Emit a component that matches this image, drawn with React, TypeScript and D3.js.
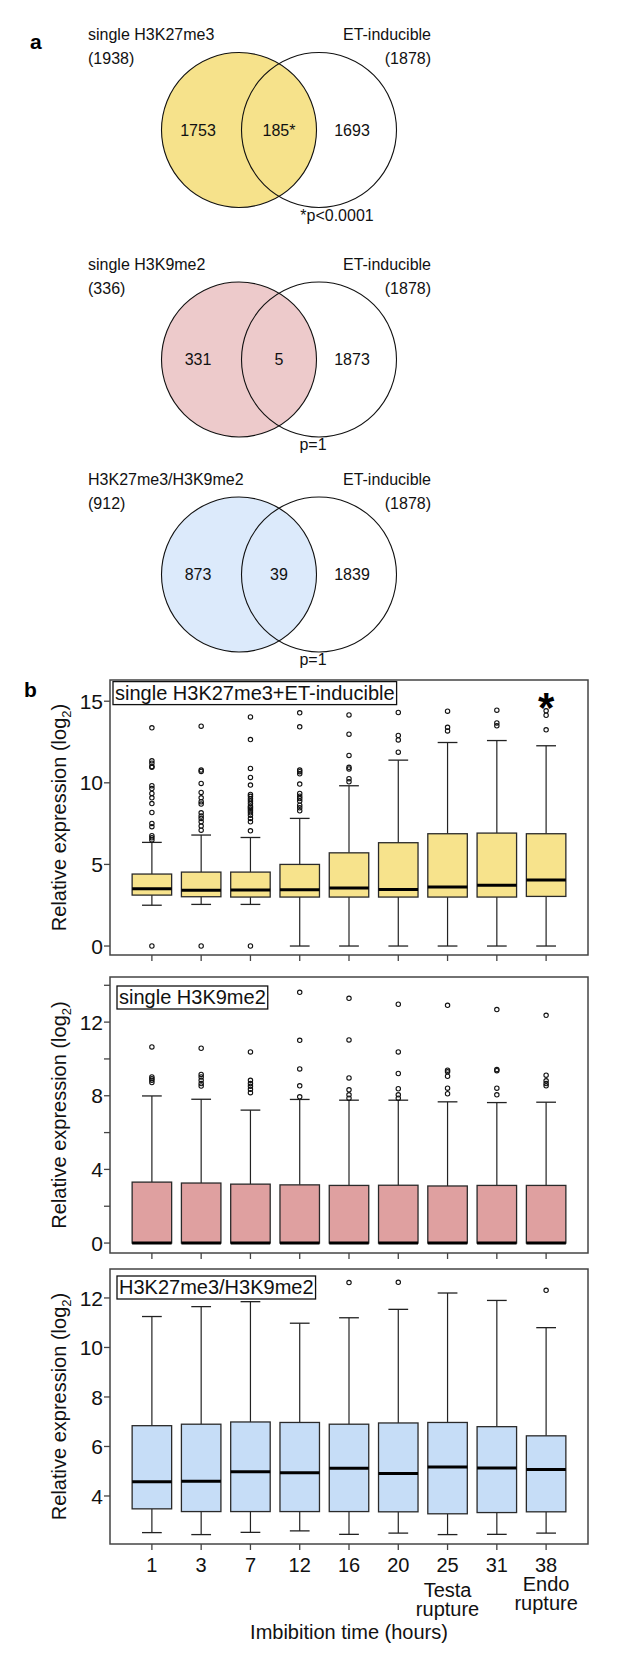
import { useEffect, useRef } from "react";
import * as d3 from "d3";

// ---- data ----
const hours = ["1", "3", "7", "12", "16", "20", "25", "31", "38"];
const hourNotes = [[], [], [], [], [], [], ["Testa", "rupture"], [], ["Endo", "rupture"]];

const vennLeftNames = ["single H3K27me3", "single H3K9me2", "H3K27me3/H3K9me2"];
const vennLeftTotals = ["(1938)", "(336)", "(912)"];
const vennRightName = "ET-inducible";
const vennRightTotals = ["(1878)", "(1878)", "(1878)"];
const vennLeftOnly = ["1753", "331", "873"];
const vennOverlap = ["185*", "5", "39"];
const vennRightOnly = ["1693", "1873", "1839"];
const vennPValues = ["*p<0.0001", "p=1", "p=1"];

// single H3K27me3 + ET-inducible
const k27Low = [2.5, 2.55, 2.55, 0, 0, 0, 0, 0, 0];
const k27Q1 = [3.12, 3.02, 3.0, 3.0, 3.0, 3.0, 3.0, 3.0, 3.04];
const k27Med = [3.51, 3.41, 3.43, 3.45, 3.55, 3.47, 3.61, 3.73, 4.04];
const k27Q3 = [4.41, 4.53, 4.53, 5.0, 5.71, 6.33, 6.88, 6.92, 6.88];
const k27High = [6.35, 6.8, 6.65, 7.82, 9.82, 11.39, 12.47, 12.59, 12.27];
const k27Out = [
  [13.37, 11.35, 11.2, 11.0, 10.95, 9.82, 9.65, 9.35, 9.08, 8.73, 8.18, 7.51, 7.31, 6.76, 6.63, 6.5, 0],
  [13.47, 10.78, 10.7, 9.96, 9.41, 9.08, 8.84, 8.7, 8.16, 7.96, 7.82, 7.61, 7.35, 7.1, 0],
  [14.04, 12.65, 10.88, 10.33, 9.86, 9.29, 9.17, 9.02, 8.88, 8.73, 8.57, 8.49, 8.39, 8.29, 8.16, 8.02, 7.82, 7.61, 7.06, 0],
  [14.29, 13.43, 10.78, 10.68, 10.55, 9.92, 9.35, 9.18, 9.04, 8.88, 8.63, 8.47, 8.29],
  [14.16, 12.98, 11.68, 10.95, 10.85, 10.25, 10.06],
  [14.31, 12.9, 12.63, 11.88],
  [14.39, 13.4, 13.18],
  [14.45, 13.67, 13.49],
  [14.41, 14.14, 13.25],
];

// single H3K9me2
const k9Low = [0, 0, 0, 0, 0, 0, 0, 0, 0];
const k9Q1 = [0, 0, 0, 0, 0, 0, 0, 0, 0];
const k9Med = [0, 0, 0, 0, 0, 0, 0, 0, 0];
const k9Q3 = [3.31, 3.26, 3.2, 3.16, 3.13, 3.14, 3.1, 3.13, 3.13];
const k9High = [7.99, 7.81, 7.22, 7.8, 7.76, 7.76, 7.67, 7.63, 7.65];
const k9Out = [
  [10.65, 9.02, 8.93, 8.84, 8.72],
  [10.58, 9.16, 9.02, 8.84, 8.66, 8.53],
  [10.38, 8.84, 8.66, 8.51, 8.35, 8.17],
  [13.62, 11.01, 9.46, 8.54, 7.94],
  [13.29, 11.03, 8.97, 8.32, 8.05, 7.87],
  [12.97, 10.38, 9.21, 8.38, 8.05, 7.87],
  [12.91, 9.39, 9.3, 9.06, 8.41, 8.11],
  [12.68, 9.42, 9.36, 8.41, 8.05],
  [12.37, 9.12, 8.81, 8.66, 8.54],
];

// H3K27me3/H3K9me2
const bothLow = [2.52, 2.44, 2.53, 2.59, 2.45, 2.5, 2.44, 2.45, 2.5];
const bothQ1 = [3.48, 3.37, 3.37, 3.37, 3.37, 3.36, 3.28, 3.33, 3.36];
const bothMed = [4.57, 4.6, 4.98, 4.94, 5.12, 4.91, 5.17, 5.13, 5.07];
const bothQ3 = [6.84, 6.9, 6.99, 6.97, 6.9, 6.95, 6.97, 6.8, 6.43];
const bothHigh = [11.25, 11.65, 11.85, 10.98, 11.2, 11.54, 12.2, 11.9, 10.8];
const bothOut = [[], [], [], [], [12.62], [12.63], [], [], [12.31]];

const FONT = "'Liberation Sans', Arial, Helvetica, sans-serif";

export default function App() {
  const svgRef = useRef<SVGSVGElement>(null);

  useEffect(() => {
    if (!svgRef.current) return;
    const svg = d3.select(svgRef.current);
    svg.selectAll("*").remove();
    svg.style("font-family", FONT);

    // ---------- panel a : Venn diagrams ----------
    svg.append("text").attr("x", 30).attr("y", 49).attr("font-size", 21)
      .attr("font-weight", "bold").text("a");

    const vennFills = ["#F6E28B", "#EDCACB", "#DCEAFB"];
    const vennY = d3.scaleLinear().domain([0, 2]).range([130, 574.5]);
    const vennX = d3.scaleLinear().domain([0, 1]).range([239, 319]);
    const r = 77.5;

    vennLeftNames.forEach((name, i) => {
      const cy = i === 1 ? 359.5 : vennY(i);
      const g = svg.append("g");
      g.append("circle").attr("cx", vennX(0)).attr("cy", cy).attr("r", r)
        .attr("fill", vennFills[i]).attr("stroke", "#111").attr("stroke-width", 1.1);
      g.append("circle").attr("cx", vennX(1)).attr("cy", cy).attr("r", r)
        .attr("fill", "none").attr("stroke", "#111").attr("stroke-width", 1.1);

      const t = (x: number, y: number, s: string, anchor = "middle") =>
        g.append("text").attr("x", x).attr("y", y).attr("font-size", 16)
          .attr("text-anchor", anchor).attr("fill", "#111").text(s);

      t(88, cy - 90, name, "start");
      t(88, cy - 66, vennLeftTotals[i], "start");
      t(431, cy - 90, vennRightName, "end");
      t(431, cy - 66, vennRightTotals[i], "end");
      t(198, cy + 5.5, vennLeftOnly[i]);
      t(279, cy + 5.5, vennOverlap[i]);
      t(352, cy + 5.5, vennRightOnly[i]);
      t(i === 0 ? 337 : 313, cy + (i === 0 ? 91 : 90), vennPValues[i]);
    });

    // ---------- panel b : box plots ----------
    svg.append("text").attr("x", 24).attr("y", 697).attr("font-size", 21)
      .attr("font-weight", "bold").text("b");

    const left = 110, right = 588;
    const x = d3.scalePoint<string>().domain(hours).range([left, right]).padding(0.85);
    const boxW = 39.5;

    const panels = [
      {
        title: "single H3K27me3+ET-inducible", top: 680, bottom: 955, domain: [-0.55, 16.3],
        ticks: [0, 5, 10, 15], minor: [] as number[], fill: "#F7E38C",
        low: k27Low, q1: k27Q1, med: k27Med, q3: k27Q3, high: k27High, out: k27Out,
        tx: 115, ty: 699.6, labels: false,
      },
      {
        title: "single H3K9me2", top: 977, bottom: 1253, domain: [-0.54, 14.45],
        ticks: [0, 4, 8, 12], minor: [2, 6, 10, 14], fill: "#DFA0A0",
        low: k9Low, q1: k9Q1, med: k9Med, q3: k9Q3, high: k9High, out: k9Out,
        tx: 119, ty: 1004, labels: false,
      },
      {
        title: "H3K27me3/H3K9me2", top: 1269, bottom: 1544, domain: [2.06, 13.17],
        ticks: [4, 6, 8, 10, 12], minor: [] as number[], fill: "#C6DDF7",
        low: bothLow, q1: bothQ1, med: bothMed, q3: bothQ3, high: bothHigh, out: bothOut,
        tx: 119, ty: 1294, labels: true,
      },
    ];

    panels.forEach((p) => {
      const y = d3.scaleLinear().domain(p.domain).range([p.bottom, p.top]);
      const g = svg.append("g");

      // boxes
      hours.forEach((h, i) => {
        const cx = x(h)!;
        g.append("line").attr("x1", cx).attr("x2", cx)
          .attr("y1", y(p.q3[i])).attr("y2", y(p.high[i]))
          .attr("stroke", "#222").attr("stroke-width", 1.2);
        g.append("line").attr("x1", cx).attr("x2", cx)
          .attr("y1", y(p.q1[i])).attr("y2", y(p.low[i]))
          .attr("stroke", "#222").attr("stroke-width", 1.2);
        [p.high[i], p.low[i]].forEach((v) => {
          g.append("line").attr("x1", cx - boxW / 4).attr("x2", cx + boxW / 4)
            .attr("y1", y(v)).attr("y2", y(v))
            .attr("stroke", "#222").attr("stroke-width", 1.3);
        });
        g.append("rect").attr("x", cx - boxW / 2).attr("width", boxW)
          .attr("y", y(p.q3[i])).attr("height", Math.max(0, y(p.q1[i]) - y(p.q3[i])))
          .attr("fill", p.fill).attr("stroke", "#2a2a2a").attr("stroke-width", 1.3);
        g.append("line").attr("x1", cx - boxW / 2).attr("x2", cx + boxW / 2)
          .attr("y1", y(p.med[i])).attr("y2", y(p.med[i]))
          .attr("stroke", "#000").attr("stroke-width", 3);
        p.out[i].forEach((v) => {
          g.append("circle").attr("cx", cx).attr("cy", y(v)).attr("r", 2.2)
            .attr("fill", "none").attr("stroke", "#111").attr("stroke-width", 1.1);
        });
      });

      // frame
      g.append("rect").attr("x", left).attr("y", p.top)
        .attr("width", right - left).attr("height", p.bottom - p.top)
        .attr("fill", "none").attr("stroke", "#444").attr("stroke-width", 1.5);

      // y ticks
      [...p.ticks, ...p.minor].forEach((v) => {
        g.append("line").attr("x1", left - 6).attr("x2", left)
          .attr("y1", y(v)).attr("y2", y(v)).attr("stroke", "#444").attr("stroke-width", 1.3);
      });
      p.ticks.forEach((v) => {
        g.append("text").attr("x", left - 7).attr("y", y(v)).attr("dy", "0.36em")
          .attr("text-anchor", "end").attr("font-size", 21).attr("fill", "#111")
          .text(String(v));
      });

      // x ticks
      hours.forEach((h) => {
        g.append("line").attr("x1", x(h)!).attr("x2", x(h)!)
          .attr("y1", p.bottom).attr("y2", p.bottom + 6)
          .attr("stroke", "#444").attr("stroke-width", 1.3);
      });

      // y title
      const cy = (p.top + p.bottom) / 2;
      const yt = g.append("text").attr("transform", `translate(66,${cy}) rotate(-90)`)
        .attr("text-anchor", "middle").attr("font-size", 20).attr("fill", "#111");
      yt.append("tspan").text("Relative expression (log");
      yt.append("tspan").attr("font-size", 13).attr("dy", 5).text("2");
      yt.append("tspan").attr("dy", -5).text(")");

      // title box
      const tt = g.append("text").attr("x", p.tx).attr("y", p.ty)
        .attr("font-size", 20).attr("fill", "#111").text(p.title);
      const bb = (tt.node() as SVGTextElement).getBBox();
      g.insert("rect", "text").attr("x", bb.x - 2).attr("y", bb.y)
        .attr("width", bb.width + 4).attr("height", bb.height + 1)
        .attr("fill", "#fff").attr("stroke", "#111").attr("stroke-width", 1.3);

      if (p.labels) {
        hours.forEach((h, i) => {
          g.append("text").attr("x", x(h)!).attr("y", p.bottom + 28)
            .attr("text-anchor", "middle").attr("font-size", 20).attr("fill", "#111").text(h);
          hourNotes[i].forEach((s, k) => {
            g.append("text").attr("x", x(h)!)
              .attr("y", p.bottom + (i === 6 ? 53 : 47) + k * 19)
              .attr("text-anchor", "middle").attr("font-size", 20).attr("fill", "#111").text(s);
          });
        });
        g.append("text").attr("x", (left + right) / 2).attr("y", p.bottom + 95)
          .attr("text-anchor", "middle").attr("font-size", 20).attr("fill", "#111")
          .text("Imbibition time (hours)");
      }
    });

    // significance mark above the last box of panel 1
    svg.append("text").attr("x", x(hours[8])!).attr("y", 722)
      .attr("text-anchor", "middle").attr("font-size", 42).attr("font-weight", "bold")
      .text("*");
  }, []);

  return (
    <svg ref={svgRef} width={617} height={1671}
      style={{ position: "absolute", left: 0, top: 0, background: "#fff" }} />
  );
}
